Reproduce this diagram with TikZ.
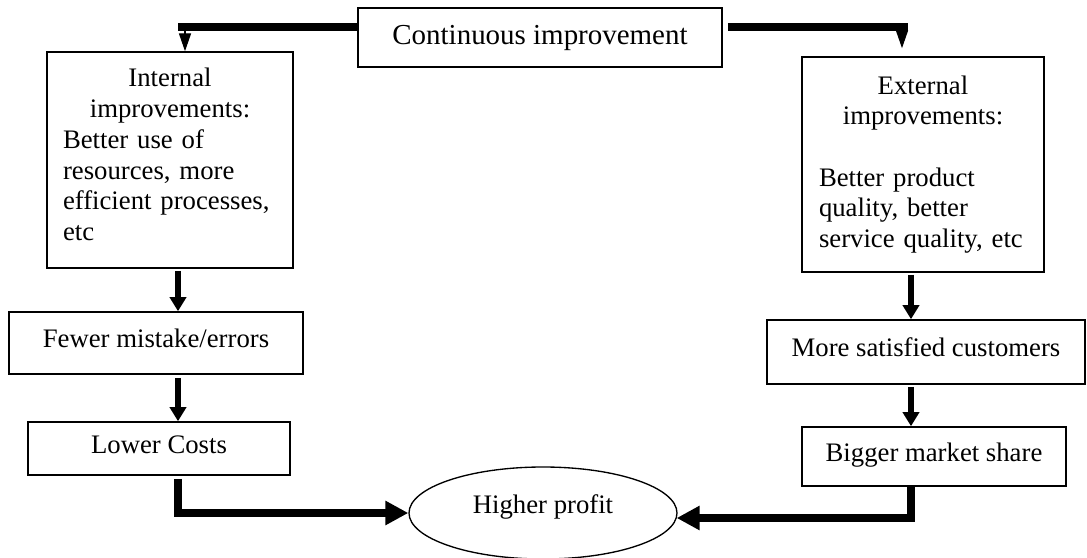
\documentclass[tikz,border=0pt]{standalone}
\usepackage{fontspec}
\setmainfont{Liberation Serif}
\usetikzlibrary{arrows.meta,shapes.geometric}

\def\pxu{0.449pt}   % one pixel of the layout grid
\hyphenpenalty=10000

\begin{document}
\begin{tikzpicture}[x=\pxu, y=-\pxu, line join=miter,
  box/.style={draw, line width=0.7pt, inner sep=0pt,
    font=\fontsize{12}{13.8}\selectfont, text height=0.68em, text depth=0.25em},
  textbox/.style={draw, line width=0.7pt, inner sep=0pt, align=left,
    font=\fontsize{12}{13.8}\selectfont},
  flow/.style={line width=3.1pt, -{Triangle[length=6.3pt,width=7.2pt]}},
  merge/.style={line width=3.6pt, -{Triangle[length=10.3pt,width=10.3pt]}},
  feed/.style={line width=3.6pt},
  drop/.style={line width=0.5pt, -{Triangle[length=8pt,width=5.4pt]}}
]

% Page frame
\useasboundingbox (0,0) rectangle (1087,558);

% -----------------------------
% Boxes
% -----------------------------
\node[box, minimum width=364*\pxu, minimum height=59*\pxu,
  font=\fontsize{13}{15}\selectfont, text depth=0.05em] (cont) at (540,37.5) {Continuous improvement};

\node[textbox, minimum width=246*\pxu, minimum height=216*\pxu,
  text width=214*\pxu] (intl) at (170,160)
  {{\centering Internal\\ improvements:\par}Better use of\\ resources, more\\
   efficient processes,\\ etc\rule[-5pt]{0pt}{0pt}};

\node[textbox, minimum width=242*\pxu, minimum height=215*\pxu,
  text width=208*\pxu] (ext) at (923,164.5)
  {{\centering External\\ improvements:\\[\baselineskip]\par}Better product\\
   quality, better\\ service quality, etc};

\node[box, minimum width=294*\pxu, minimum height=62*\pxu] (fewer) at (156,343) {Fewer mistake/errors};
\node[box, minimum width=262*\pxu, minimum height=53*\pxu] (lower) at (159,448.5) {Lower Costs};
\node[box, minimum width=318*\pxu, minimum height=64*\pxu] (more) at (926,352) {More satisfied customers};
\node[box, minimum width=264*\pxu, minimum height=59*\pxu] (bigger) at (934,456.5) {Bigger market share};

\node[draw, ellipse, line width=0.6pt, inner sep=0pt, minimum width=268*\pxu,
  minimum height=92*\pxu, font=\fontsize{12}{13.8}\selectfont,
  text height=6pt, text depth=6pt] (profit) at (543,513) {Higher profit};

% -----------------------------
% Top split
% -----------------------------
\coordinate (tl) at (178,27);
\coordinate (tr) at (908,27);
\coordinate (tla) at (185,31);
\coordinate (tra) at (902,31);

\draw[feed] (cont.west |- tl) -- (tl);
\draw[feed] ([xshift=5*\pxu]cont.east |- tr) -- (tr);
\draw[drop] (tla) -- (tla |- intl.north);
\draw[drop] (tra) -- ([yshift=8*\pxu]tra |- ext.north);

% -----------------------------
% Two chains
% -----------------------------
\coordinate (lx) at (178,513);
\coordinate (rx) at (911,518);

\draw[flow] ([yshift=-2*\pxu]intl.south -| lx) -- (fewer.north -| lx);
\draw[flow] ([yshift=-3*\pxu]fewer.south -| lx) -- (lower.north -| lx);
\draw[flow] ([yshift=-2*\pxu]ext.south -| rx) -- (more.north -| rx);
\draw[flow] ([yshift=-2*\pxu]more.south -| rx) -- (bigger.north -| rx);

% -----------------------------
% Into the profit
% -----------------------------
\draw[merge] ([yshift=-3*\pxu]lower.south -| lx) -- (lx) -- (lx -| profit.west);
\draw[merge] (bigger.south -| rx) -- (rx) -- ([xshift=-1*\pxu]rx -| profit.east);

\end{tikzpicture}
\end{document}
